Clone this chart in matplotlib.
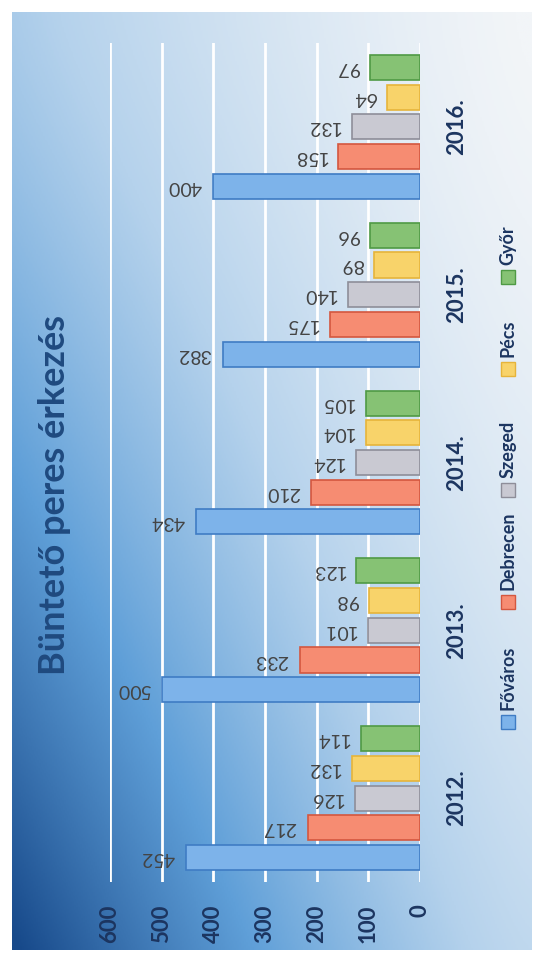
import numpy as np
import matplotlib.pyplot as plt
from matplotlib.colors import LinearSegmentedColormap
from matplotlib.patches import Rectangle

plt.rcParams['font.family'] = ['Lato', 'DejaVu Sans']

years = ['2012.', '2013.', '2014.', '2015.', '2016.']
cities = ['Főváros', 'Debrecen', 'Szeged', 'Pécs', 'Győr']
fovaros = [452, 500, 434, 382, 400]
debrecen = [217, 233, 210, 175, 158]
szeged = [126, 101, 124, 140, 132]
pecs = [132, 98, 104, 89, 64]
gyor = [114, 123, 105, 96, 97]
series = [fovaros, debrecen, szeged, pecs, gyor]
x_ticks = [0, 100, 200, 300, 400, 500, 600]

fills = ['#7db3ea', '#f68c72', '#c9c9d2', '#f8d36a', '#86c274']
edges = ['#3f7cc4', '#d4573f', '#8e8e99', '#e6b43a', '#4f9a45']
navy = '#1c3560'

W, H = 544, 959
fig = plt.figure(figsize=(W / 100, H / 100), dpi=100)

# background gradient (dark bottom-left, light top-right)
bg = fig.add_axes([12 / W, 1 - 950 / H, 520 / W, 938 / H])
bg.axis('off')
u = np.linspace(0, 1, 300)[None, :]
v = np.linspace(0, 1, 500)[:, None]
d = 0.34 * (1 - u) ** 1.3 + 0.25 * v ** 1.5 + 0.42 * ((1 - u) * v) ** 1.2
cmap = LinearSegmentedColormap.from_list(
    'bgblue', [(0, '#f2f5f8'), (0.3, '#b5d2ec'), (0.6, '#5f9fd8'), (1, '#17498a')])
bg.imshow(np.clip(d, 0, 1), cmap=cmap, vmin=0, vmax=1, aspect='auto')

# bar chart, drawn sideways
ax = fig.add_axes([110 / W, 1 - 882 / H, 310 / W, 839 / H])
ax.patch.set_alpha(0)
ax.set_xlim(600, 0)
ax.set_ylim(-0.5, 4.5)
for s in ax.spines.values():
    s.set_visible(False)
ax.set_xticks(x_ticks)
ax.grid(axis='x', color='white', lw=2)
ax.set_axisbelow(True)

pos = np.arange(len(years))
step = 0.177
for i, vals in enumerate(series):
    yy = pos + (i - 2) * step
    ax.barh(yy, vals, height=0.15, color=fills[i], edgecolor=edges[i], lw=1.2)
    for y, val in zip(yy, vals):
        ax.text(val + 22, y, str(val), rotation=180, ha='right', va='center',
                fontsize=14, color='#444444')

ax.tick_params(axis='x', length=0, pad=16, labelrotation=90, labelsize=16,
               labelcolor=navy)
for t in ax.get_xticklabels():
    t.set_fontweight('bold')

ax.set_yticks(pos)
ax.set_yticklabels(years)
ax.yaxis.tick_right()
ax.tick_params(axis='y', length=0, pad=19, labelrotation=90, labelsize=16,
               labelcolor=navy)
for t in ax.get_yticklabels():
    t.set_fontweight('bold')
    t.set_va('center')

# title
fig.text(55 / W, 1 - 495 / H, 'Büntető peres érkezés', rotation=90,
         ha='center', va='center', fontsize=26, fontweight='bold', color='#1f4a7f')

# legend, reading bottom to top
text_bottoms = [710, 590, 478, 357, 265]
for i, name in enumerate(cities):
    tb = text_bottoms[i]
    fig.patches.append(Rectangle(((508 - 7) / W, 1 - (tb + 19) / H), 14 / W, 14 / H,
                                 transform=fig.transFigure, facecolor=fills[i],
                                 edgecolor=edges[i], lw=1))
    fig.text(508 / W, 1 - tb / H, name, rotation=90, ha='center', va='bottom',
             fontsize=13, fontweight='bold', color=navy)

fig.savefig('out.png', dpi=100)
